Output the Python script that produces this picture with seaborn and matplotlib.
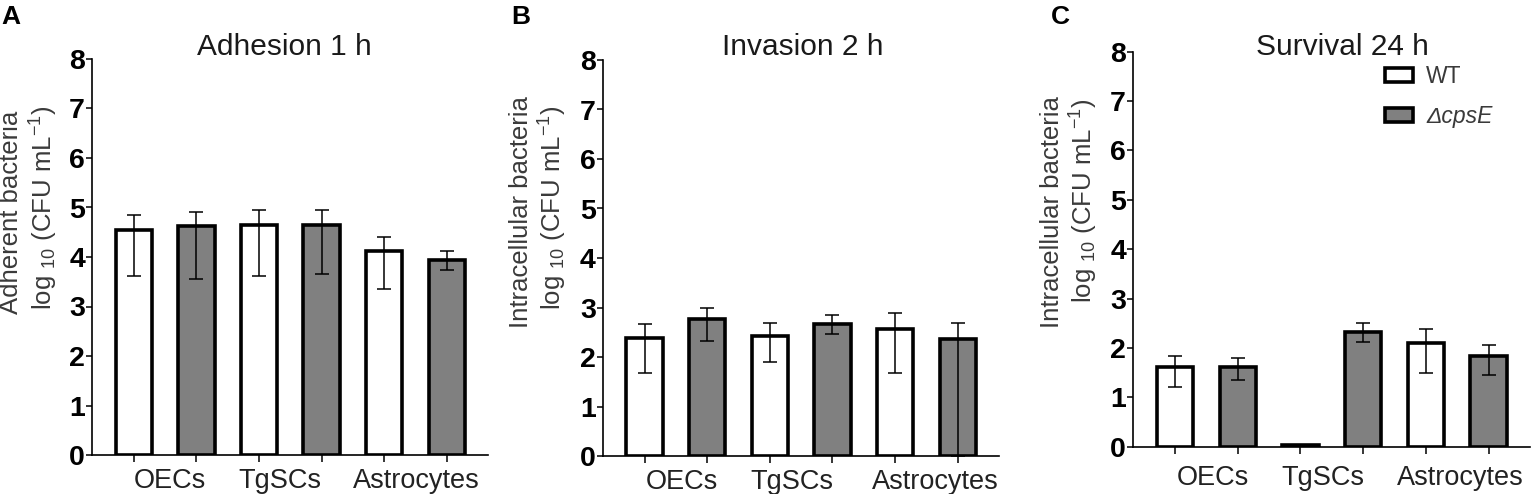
import numpy as np
import pandas as pd
import matplotlib
matplotlib.use("Agg")
import matplotlib.pyplot as plt
import seaborn as sns

# ---------------- data ----------------
cells = ["OECs", "TgSCs", "Astrocytes"]
strains = ["WT", "ΔcpsE"]

# Adhesion 1 h
adh_wt = [4.55, 4.64, 4.12]
adh_wt_lo = [3.61, 3.62, 3.36]
adh_wt_hi = [4.84, 4.95, 4.41]
adh_ko = [4.62, 4.64, 3.94]
adh_ko_lo = [3.55, 3.65, 3.73]
adh_ko_hi = [4.91, 4.95, 4.12]

# Invasion 2 h
inv_wt = [2.39, 2.42, 2.57]
inv_wt_lo = [1.68, 1.90, 1.68]
inv_wt_hi = [2.67, 2.69, 2.88]
inv_ko = [2.77, 2.67, 2.36]
inv_ko_lo = [2.32, 2.46, 0.0]
inv_ko_hi = [3.00, 2.84, 2.69]

# Survival 24 h
sur_wt = [1.61, 0.03, 2.11]
sur_wt_lo = [1.20, np.nan, 1.49]
sur_wt_hi = [1.84, np.nan, 2.38]
sur_ko = [1.62, 2.33, 1.83]
sur_ko_lo = [1.36, 2.13, 1.45]
sur_ko_hi = [1.80, 2.50, 2.05]

titles = ["Adhesion 1 h", "Invasion 2 h", "Survival 24 h"]
ylabel_top = ["Adherent bacteria", "Intracellular bacteria", "Intracellular bacteria"]
ylabel_bottom = r"log $_{10}$ (CFU mL$^{-1}$)"
panel_letters = ["A", "B", "C"]
yticks = [0, 1, 2, 3, 4, 5, 6, 7, 8]

# ---------------- style ----------------
sns.set_theme(style="ticks")
plt.rcParams["font.family"] = ["Liberation Sans", "DejaVu Sans"]
plt.rcParams["mathtext.fontset"] = "custom"
plt.rcParams["mathtext.rm"] = "Liberation Sans"
plt.rcParams["mathtext.it"] = "Liberation Sans:italic"
plt.rcParams["mathtext.bf"] = "Liberation Sans:bold"

W, H = 1531, 494
fig = plt.figure(figsize=(W / 100, H / 100), dpi=100)

palette = {"WT": "white", "ΔcpsE": "#808080"}
label_col = "#3a3a3a"


def px(x, y):
    return x / W, 1 - y / H


# axes rectangles in pixels: left, right, y(0), y(8)
rects = [(92, 488, 455, 59), (602.7, 999, 456, 60), (1133, 1530, 446.7, 51.7)]
label_pos = [[0.58, 2.33, 4.52], [0.60, 2.35, 4.65], [0.60, 2.35, 4.55]]
label_pad = [9.5, 9.0, 13.0]
title_xy = [(284, 55), (803, 55), (1342, 55)]
letter_xy = [(1, 5), (511, 5), (1051, 5)]
ylab1_xy = [(11, 212), (521, 212), (1052, 212)]
ylab2_xy = [(44, 208), (553, 208), (1084, 201)]

datasets = [
    (adh_wt, adh_wt_lo, adh_wt_hi, adh_ko, adh_ko_lo, adh_ko_hi),
    (inv_wt, inv_wt_lo, inv_wt_hi, inv_ko, inv_ko_lo, inv_ko_hi),
    (sur_wt, sur_wt_lo, sur_wt_hi, sur_ko, sur_ko_lo, sur_ko_hi),
]

for i, (d, r) in enumerate(zip(datasets, rects)):
    wt, wt_lo, wt_hi, ko, ko_lo, ko_hi = d
    l, rr, y0, y8 = r
    ax = fig.add_axes([l / W, 1 - y0 / H, (rr - l) / W, (y0 - y8) / H])

    rows = []
    for c, a, alo, ahi, b, blo, bhi in zip(cells, wt, wt_lo, wt_hi, ko, ko_lo, ko_hi):
        rows.append({"cond": f"{c} WT", "strain": "WT", "val": a, "lo": alo, "hi": ahi})
        rows.append({"cond": f"{c} KO", "strain": "ΔcpsE", "val": b, "lo": blo, "hi": bhi})
    df = pd.DataFrame(rows)
    order = list(df["cond"])

    sns.barplot(data=df, x="cond", y="val", hue="strain", order=order,
                hue_order=strains, palette=palette, dodge=False, width=0.58,
                edgecolor="black", linewidth=2.6, errorbar=None, legend=False,
                ax=ax)

    xs = np.arange(len(order))
    vals = df["val"].to_numpy()
    lo = df["lo"].to_numpy()
    hi = df["hi"].to_numpy()
    ok = ~np.isnan(lo)
    ax.errorbar(xs[ok], vals[ok], yerr=[vals[ok] - lo[ok], hi[ok] - vals[ok]],
                fmt="none", ecolor="black", elinewidth=1.1, capsize=5.3,
                capthick=1.1, zorder=5, clip_on=False)

    ax.set_xlim(-0.67, 5.66)
    ax.set_ylim(0, 8)
    ax.set_yticks(yticks)
    ax.set_yticklabels([str(t) for t in yticks], fontsize=20.5, fontweight="bold",
                       color="black")
    ax.set_xticks(xs)
    ax.set_xticklabels([""] * len(xs))
    ax.set_xticks(label_pos[i], cells, minor=True)
    ax.tick_params(axis="x", which="minor", length=0, labelsize=19.5,
                   pad=label_pad[i], labelcolor="#222222")
    ax.tick_params(axis="x", which="major", length=5, width=1.1, color="black")
    ax.tick_params(axis="y", which="major", length=4, width=1.1, color="black",
                   pad=1.0)
    ax.set_xlabel("")
    ax.set_ylabel("")
    sns.despine(ax=ax)
    for s in ["left", "bottom"]:
        ax.spines[s].set_color("black")
        ax.spines[s].set_linewidth(1.2)

    fig.text(*px(*title_xy[i]), titles[i], ha="center", va="baseline",
             fontsize=21.5, color="#1a1a1a")
    fig.text(*px(*letter_xy[i]), panel_letters[i], ha="left", va="top",
             fontsize=19, fontweight="bold", color="black")
    fig.text(*px(*ylab1_xy[i]), ylabel_top[i], rotation=90, ha="center",
             va="center", fontsize=18.5, color=label_col)
    fig.text(*px(*ylab2_xy[i]), ylabel_bottom, rotation=90, ha="center",
             va="center", fontsize=18.5, color=label_col)

    if i == 2:
        leg = ax.legend(ax.containers[:2], strains, loc="upper left",
                        bbox_to_anchor=px(1385, 65), bbox_transform=fig.transFigure,
                        frameon=False, borderpad=0, borderaxespad=0,
                        handlelength=1.2, handleheight=0.6, handletextpad=0.6,
                        labelspacing=0.75, fontsize=16.5)
        for t in leg.get_texts():
            t.set_color(label_col)
        leg.get_texts()[1].set_fontstyle("italic")

fig.savefig("out.png", dpi=100)
